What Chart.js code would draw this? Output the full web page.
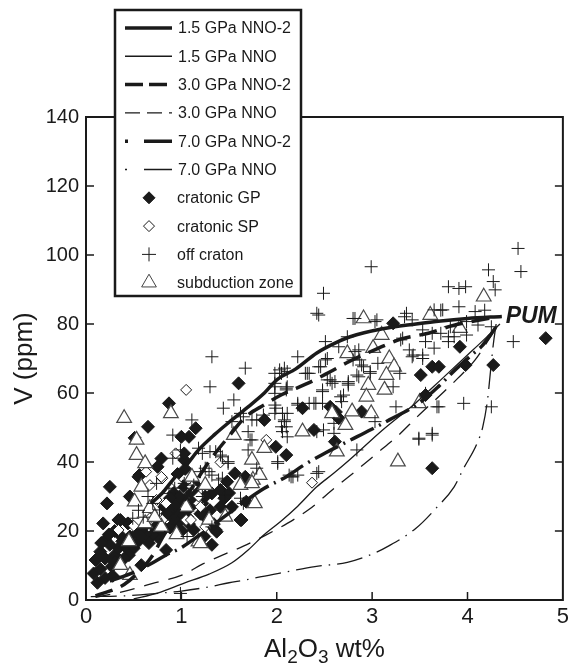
<!DOCTYPE html>
<html>
<head>
<meta charset="utf-8">
<script src="https://cdn.jsdelivr.net/npm/chart.js@4.4.0/dist/chart.umd.min.js"></script>
<style>
  html, body { margin: 0; padding: 0; background: #fff; }
</style>
</head>
<body>
<canvas id="myChart" width="573" height="663"></canvas>
<script>
// trục
var xTicks = [0, 1, 2, 3, 4, 5];
var yTicks = [0, 20, 40, 60, 80, 100, 120, 140];

// đường mô hình (Al2O3, V)
var c15NNO2 = [[0.68,28],[0.8,31],[0.93,35.5],[1.05,39],[1.18,43.5],[1.35,48],[1.53,52.2],[1.7,56],[1.87,60],[2.0,63.8],[2.2,67],[2.42,71.6],[2.6,74.3],[2.77,76.3],[3.11,78.6],[3.46,80],[3.72,80.9],[4.0,81.6],[4.36,82.2]];
var c15NNO = [[0.5,0.3],[0.75,2],[1.03,4.9],[1.29,7.5],[1.53,10.8],[1.7,14.5],[1.87,19],[2.05,23],[2.22,27.2],[2.42,32.8],[2.6,36.8],[2.77,40.8],[3.11,49.3],[3.46,57.2],[3.72,63.8],[4.0,71],[4.2,76.2],[4.34,80]];
var c30NNO2 = [[0.1,1.2],[0.4,4.5],[0.6,9.5],[0.7,13],[0.8,18],[0.95,25],[1.1,32],[1.3,40.5],[1.5,47.5],[1.67,53],[1.87,56.6],[2.05,59.5],[2.34,63],[2.55,66],[2.75,69],[3.05,72.8],[3.3,75.6],[3.6,77.4],[3.85,79.6],[4.1,81],[4.3,82]];
var c30NNO = [[0.1,0.8],[0.4,2.5],[0.7,4.8],[1.03,7.5],[1.22,10.4],[1.43,13],[1.65,15.6],[1.87,18.6],[2.11,22.2],[2.34,26.3],[2.6,32.3],[2.82,37.2],[3.05,42.5],[3.27,47.6],[3.48,53.3],[3.7,59],[3.9,64.3],[4.08,69.6],[4.2,74.5],[4.3,79]];
var c70NNO2 = [[0.25,5.5],[0.5,8],[0.7,10.8],[0.85,13.2],[1.0,15.2],[1.22,19.4],[1.5,25.2],[1.84,31.9],[2.11,35.9],[2.29,39.2],[2.48,42.2],[2.74,45.9],[2.99,49.4],[3.18,52.2],[3.49,57],[3.7,62],[3.87,66.7],[4.05,71.2],[4.15,73.6],[4.25,77.2],[4.32,80]];
var c70NNO = [[0.05,1],[0.4,1.2],[0.7,1.8],[1.0,2.6],[1.29,3.8],[1.5,5],[1.67,5.8],[1.84,6.8],[2.11,8.2],[2.4,9.7],[2.74,10.9],[3.01,13.4],[3.17,15.6],[3.46,20.8],[3.67,26.6],[3.86,32.8],[3.96,38.2],[4.1,45.4],[4.16,50.2],[4.21,58],[4.24,66],[4.27,74],[4.3,80]];

// mẫu
var cratonicGP = [[0.25,32.8],[0.22,28],[0.18,22.2],[0.2,17.4],[0.15,14],[0.1,11.6],[0.08,7.7],[0.2,6.4],[0.27,9.7],[0.3,13],[0.34,15],[0.41,15.5],[0.46,18.4],[0.34,23.2],[0.44,22.2],[0.54,19.4],[0.58,10.1],[0.84,14.5],[0.56,36.2],[0.46,30],[0.79,41],[0.82,27],[0.68,18.4],[0.75,18.3],[0.93,25.6],[1.03,29],[0.96,22.3],[1.06,24.1],[1.13,20.3],[1.24,18.4],[1.03,40.6],[0.87,57],[0.65,50.2],[1.15,49.8],[1.08,47.3],[1.0,47.3],[1.03,42.5],[0.75,38.6],[1.6,62.8],[1.87,52.2],[1.99,44.4],[2.1,42],[2.27,55.6],[2.39,49.3],[0.55,35.7],[0.36,23.2],[1.32,16],[1.36,20.3],[1.63,23.2],[1.48,34.3],[1.67,35.7],[1.56,36.7],[1.41,27],[1.68,28.5],[1.32,30.9],[1.41,31.9],[1.53,27],[1.62,23.2],[1.37,19.8],[1.25,30],[3.22,80.2],[3.51,65.2],[3.63,67.6],[3.7,67.6],[3.92,73.4],[3.98,68.1],[4.27,68.1],[4.82,75.9],[2.56,56],[2.65,52.7],[2.62,54.5],[2.89,54.6],[2.61,45.9],[3.56,59.4],[3.63,38.2],[0.51,47],[0.9,28],[0.95,26],[1.0,27],[1.05,26],[0.85,25],[1.1,27],[0.92,31],[0.78,22],[0.88,21],[1.0,20],[1.08,22],[0.7,19],[0.62,19],[0.55,17],[0.5,15],[0.45,13],[0.4,12],[0.3,11],[0.2,12],[0.15,9],[0.25,16],[0.35,19],[1.15,29],[1.2,25],[1.25,24],[1.3,26],[0.98,30],[1.02,33],[0.96,36.5],[1.04,38],[0.12,5],[0.28,7],[0.6,21],[0.72,21],[0.88,29.5],[0.94,27.5],[0.86,26.5],[0.98,24.5],[1.1,31],[1.16,33],[1.22,28],[0.92,23.5],[0.8,20],[0.66,16.5],[0.58,18.5],[0.38,17],[0.3,20],[0.24,19],[0.16,16.5],[1.34,22],[1.45,29.5],[1.5,31]];
var cratonicSP = [[1.05,60.9],[1.41,39.9],[1.89,46.4],[2.37,34],[0.63,37.2],[0.94,42.5],[0.8,35.3],[0.34,20.3],[0.67,23.7],[1.11,32.8],[1.18,28],[1.05,23.2],[1.25,21.2],[0.84,28],[0.74,29],[0.67,33.3],[0.79,35.7],[1.1,23.2],[1.2,27],[1.18,30],[0.8,23.2],[0.5,21.5],[0.95,34]];
var offCraton = [[2.99,96.6],[4.53,101.9],[4.56,95.2],[4.22,95.7],[4.27,92.3],[4.29,89.9],[3.8,90.8],[3.91,90.3],[3.98,90.8],[2.49,88.9],[2.42,83.1],[2.8,81.6],[3.05,81.2],[3.34,82.1],[3.42,81.2],[3.72,84],[3.91,85],[4.08,83.6],[4.18,84],[4.48,74.9],[3.53,78.3],[3.63,77.3],[3.8,76.3],[3.99,76.8],[2.74,76.3],[2.51,74.9],[2.65,73.4],[2.86,72.5],[3.3,75.4],[3.39,72.5],[2.22,70.5],[2.53,70],[2.8,69.6],[2.89,68.1],[3.42,70.5],[3.53,71],[2.44,67.6],[2.34,65.7],[2.53,63.8],[2.61,63.3],[2.75,62.8],[2.86,64.7],[2.98,65.7],[2.05,65.7],[2.11,61.8],[2.48,60.4],[2.67,58.9],[2.22,56.5],[2.39,57],[2.06,54.1],[2.6,48.3],[2.1,50.2],[3.25,56],[3.7,56],[3.96,57],[4.25,56],[3.63,48.3],[3.49,46.6],[2.84,43.5],[2.42,36.7],[2.17,35.7],[3.74,84.1],[3.82,79.2],[3.99,80.7],[4.11,79.7],[4.25,79.2],[3.72,77.3],[3.86,76.3],[3.8,74.9],[2.44,82.6],[2.82,81.6],[3.03,80.7],[3.36,83.1],[3.65,84.1],[3.32,75.9],[3.56,74.9],[3.65,73],[2.82,72],[2.51,69.6],[2.87,69.6],[3.43,71],[3.53,70],[2.91,67.6],[2.46,67.6],[2.98,66.2],[2.84,65.2],[3.06,68.6],[3.29,65.7],[2.75,63.3],[2.56,63.8],[1.32,70.5],[1.67,67.2],[1.98,65.7],[2.08,67.2],[2.32,65.7],[1.3,61.8],[1.55,58],[1.44,55.6],[1.11,52.2],[0.91,47.8],[0.91,41.1],[1.18,44],[1.22,42.5],[1.36,43],[1.43,41.5],[1.49,39.6],[1.7,48.8],[1.74,46.4],[1.62,54.1],[1.74,52.2],[1.86,53.6],[1.98,62.8],[2.03,66.7],[2.11,66.2],[1.98,59.9],[2.1,60.9],[1.99,55.6],[2.08,51.7],[2.06,48.8],[2.11,47.3],[2.34,57],[2.3,65.7],[2.01,39.6],[2.15,35.7],[2.22,36.2],[0.74,33.8],[0.65,30],[1.22,30],[1.05,32.4],[1.25,38.2],[1.32,36.2],[1.39,34.8],[1.46,30.4],[1.62,29.5],[0.87,30.9],[0.77,26.1],[1.06,18.4],[0.49,23.7],[1.32,21.2],[1.65,28],[0.99,1.9],[0.99,43.5],[1.2,37.2],[0.93,32.4],[1.03,33.8],[1.13,33.3],[1.98,61.8],[2.1,61.4],[1.98,56.5],[2.22,57],[2.41,57],[1.98,54.1],[2.11,54.1],[1.65,53.1],[1.79,52.2],[2.08,52.2],[2.05,50.2],[1.53,51.7],[1.72,46.4],[1.7,43.5],[1.3,43],[1.41,42],[2.01,40.1],[1.79,38.2],[1.49,40.1],[1.29,37.2],[1.43,35.3],[2.13,36.2],[2.48,60.9],[2.58,62.8],[2.75,62.3],[2.7,59.4],[2.68,57.5],[2.48,57],[3.22,61.8],[3.56,59.9],[3.68,56],[3.03,51.7],[2.6,51.2],[2.49,49.3],[2.42,48.8],[3.49,46.9],[3.63,47.8],[2.44,37.2],[0.6,24],[0.55,26],[0.7,28]];
var subduction = [[0.4,52.7],[0.89,54.1],[0.53,46.4],[0.53,42],[0.62,39.6],[0.58,32.8],[0.51,28.5],[0.67,26.6],[0.62,22.2],[0.79,21.2],[0.36,10.1],[0.46,7.2],[1.18,16.9],[1.46,24.1],[1.29,23.2],[1.55,47.8],[1.74,40.6],[1.75,34.8],[1.77,28],[1.62,33.3],[1.82,36.2],[1.87,44],[2.27,48.8],[1.11,35.7],[1.25,33.3],[1.05,27],[1.74,33.8],[1.2,16.4],[2.91,81.6],[3.61,82.6],[3.1,76.8],[3.01,73],[2.74,71.5],[3.18,70],[3.23,67.6],[3.15,65.2],[2.96,62.3],[3.13,60.9],[2.94,58.9],[2.79,54.6],[2.72,50.7],[2.58,54.1],[2.99,54.1],[2.63,43],[3.49,57],[3.27,40.1],[3.92,78.8],[4.17,87.9],[0.72,24],[0.95,19],[0.45,17]];

var FONT = '"Liberation Sans", Arial, Helvetica, sans-serif';
var INK = '#1a1a1a';

function pts(arr) { return arr.map(function (p) { return { x: p[0], y: p[1] }; }); }

function lineSet(label, arr, width, dash, order) {
    return {
        label: label, data: pts(arr), showLine: true, pointRadius: 0,
        borderColor: INK, borderWidth: width, borderDash: dash,
        cubicInterpolationMode: 'monotone', fill: false, order: order
    };
}

// khung, vạch chia hướng vào trong, chú giải, nhãn trục
var framePlugin = {
    id: 'frame',
    afterDraw: function (chart) {
        var c = chart.ctx, a = chart.chartArea;
        var sx = chart.scales.x, sy = chart.scales.y;
        c.save();
        c.strokeStyle = INK;
        c.lineWidth = 2;
        c.strokeRect(a.left, a.top, a.right - a.left, a.bottom - a.top);
        c.lineWidth = 1.5;
        c.beginPath();
        yTicks.slice(1, -1).forEach(function (v) {
            var y = sy.getPixelForValue(v);
            c.moveTo(a.left, y); c.lineTo(a.left + 8, y);
            c.moveTo(a.right, y); c.lineTo(a.right - 8, y);
        });
        xTicks.slice(1, -1).forEach(function (v) {
            var x = sx.getPixelForValue(v);
            c.moveTo(x, a.bottom); c.lineTo(x, a.bottom - 8);
        });
        c.stroke();

        // PUM
        c.fillStyle = INK;
        c.font = 'italic bold 23px ' + FONT;
        c.textBaseline = 'alphabetic';
        c.fillText('PUM', sx.getPixelForValue(4.4), sy.getPixelForValue(80.3));

        // chú giải
        var L = 115, T = 10, R = 301, B = 296;
        c.fillStyle = '#fff';
        c.fillRect(L, T, R - L, B - T);
        c.lineWidth = 2.5;
        c.strokeStyle = INK;
        c.strokeRect(L, T, R - L, B - T);
        var rows = [
            ['1.5 GPa NNO-2', 'line', 3.5, []],
            ['1.5 GPa NNO', 'line', 1.4, []],
            ['3.0 GPa NNO-2', 'line', 3.5, [18, 6]],
            ['3.0 GPa NNO', 'line', 1.4, [15, 7]],
            ['7.0 GPa NNO-2', 'line', 3.5, [3, 16, 30, 0]],
            ['7.0 GPa NNO', 'line', 1.4, [2, 17, 30, 0]],
            ['cratonic GP', 'gp'],
            ['cratonic SP', 'sp'],
            ['off craton', 'oc'],
            ['subduction zone', 'sz']
        ];
        c.font = '16px ' + FONT;
        c.textBaseline = 'middle';
        rows.forEach(function (r, i) {
            var y = 28 + i * 28.3;
            c.strokeStyle = INK;
            c.fillStyle = INK;
            if (r[1] === 'line') {
                c.lineWidth = r[2];
                c.setLineDash(r[3]);
                c.beginPath(); c.moveTo(125, y); c.lineTo(172, y); c.stroke();
                c.setLineDash([]);
                c.fillText(r[0], 178, y + 1);
            } else {
                var o = { pointStyle: 'rectRot', radius: 6, borderWidth: 1, rotation: 0 };
                if (r[1] === 'gp') { c.fillStyle = INK; }
                if (r[1] === 'sp') { c.fillStyle = '#fff'; o.radius = 5.5; }
                if (r[1] === 'oc') { o.pointStyle = 'cross'; o.radius = 7; }
                if (r[1] === 'sz') { o.pointStyle = 'triangle'; o.radius = 8.5; c.fillStyle = '#fff'; c.strokeStyle = '#444'; }
                c.lineWidth = 1;
                Chart.helpers.drawPoint(c, o, 149, y);
                c.fillStyle = INK;
                c.fillText(r[0], 177, y + 1);
            }
        });

        // tên trục
        c.fillStyle = INK;
        c.textBaseline = 'alphabetic';
        var parts = [['Al', 0], ['2', 1], ['O', 0], ['3', 1], [' wt%', 0]];
        var big = '26px ' + FONT, small = '19px ' + FONT;
        var w = 0;
        parts.forEach(function (p) { c.font = p[1] ? small : big; w += c.measureText(p[0]).width; });
        var x = (a.left + a.right) / 2 - w / 2, by = 657;
        parts.forEach(function (p) {
            c.font = p[1] ? small : big;
            c.fillText(p[0], x, by + (p[1] ? 6 : 0));
            x += c.measureText(p[0]).width;
        });
        c.save();
        c.translate(32, (a.top + a.bottom) / 2);
        c.rotate(-Math.PI / 2);
        c.font = big;
        c.textAlign = 'center';
        c.fillText('V (ppm)', 0, 0);
        c.restore();
        c.restore();
    }
};

var ctx = document.getElementById('myChart').getContext('2d');
var chart = new Chart(ctx, {
    type: 'scatter',
    data: {
        datasets: [
            lineSet('1.5 GPa NNO-2', c15NNO2, 3.5, [], 0),
            lineSet('1.5 GPa NNO', c15NNO, 1.3, [], 1),
            lineSet('3.0 GPa NNO-2', c30NNO2, 3.5, [18, 9], 2),
            lineSet('3.0 GPa NNO', c30NNO, 1.3, [15, 10], 3),
            lineSet('7.0 GPa NNO-2', c70NNO2, 3.5, [26, 6, 2, 6], 4),
            lineSet('7.0 GPa NNO', c70NNO, 1.3, [26, 7, 1.5, 7], 5),
            { label: 'off craton', data: pts(offCraton), pointStyle: 'cross', pointRadius: 6.5,
              borderColor: INK, borderWidth: 1, backgroundColor: INK, order: 6 },
            { label: 'subduction zone', data: pts(subduction), pointStyle: 'triangle', pointRadius: 8.5,
              borderColor: '#4a4a4a', borderWidth: 1.2, backgroundColor: '#fff', order: 7 },
            { label: 'cratonic SP', data: pts(cratonicSP), pointStyle: 'rectRot', pointRadius: 5.5,
              borderColor: INK, borderWidth: 1, backgroundColor: '#fff', order: 8 },
            { label: 'cratonic GP', data: pts(cratonicGP), pointStyle: 'rectRot', pointRadius: 6.5,
              borderColor: INK, borderWidth: 1, backgroundColor: INK, order: 9 }
        ]
    },
    options: {
        responsive: false,
        animation: false,
        layout: { padding: { top: 117, right: 5, left: 0, bottom: 0 } },
        plugins: { legend: { display: false }, tooltip: { enabled: false } },
        scales: {
            x: {
                type: 'linear', min: 0, max: 5,
                afterBuildTicks: function (s) { s.ticks = xTicks.map(function (v) { return { value: v }; }); },
                afterFit: function (s) { s.height = 63; },
                grid: { display: false, drawTicks: false },
                border: { display: false },
                ticks: { color: INK, padding: 4, maxRotation: 0, font: { family: FONT, size: 22 } }
            },
            y: {
                type: 'linear', min: 0, max: 140,
                afterBuildTicks: function (s) { s.ticks = yTicks.map(function (v) { return { value: v }; }); },
                afterFit: function (s) { s.width = 86; },
                grid: { display: false, drawTicks: false },
                border: { display: false },
                ticks: { color: INK, padding: 7, font: { family: FONT, size: 20 } }
            }
        }
    },
    plugins: [framePlugin]
});
</script>
</body>
</html>
